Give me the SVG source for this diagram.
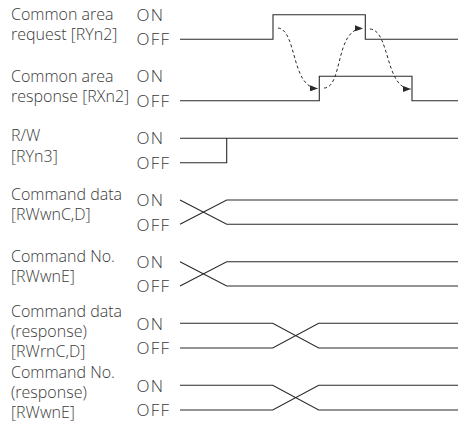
<svg xmlns="http://www.w3.org/2000/svg" width="464" height="428" viewBox="0 0 464 428">
<style>
text{font-family:"Open Sans","Noto Sans",sans-serif;font-weight:300;font-size:16px;fill:#3a3a3a}
text.s{font-size:17px;letter-spacing:1.2px}
.w{fill:none;stroke:#2a2a2a;stroke-width:1.1}
.d{fill:none;stroke:#2a2a2a;stroke-width:1;stroke-dasharray:3 2.5}
</style>
<defs>
<marker id="ah" markerUnits="userSpaceOnUse" markerWidth="8" markerHeight="6" refX="8" refY="3" orient="auto">
<path d="M0,0 L8,3 L0,6 z" fill="#2a2a2a"/>
</marker>
</defs>
<rect width="464" height="428" fill="#fff"/>
<g id="sig1">
<text x="11" y="20.2">Common area</text>
<text x="11" y="40.4">request [RYn2]</text>
<text class="s" x="136.5" y="20.8">ON</text>
<text class="s" x="136.5" y="45.4">OFF</text>
</g>
<g id="sig2">
<text x="11" y="81.7">Common area</text>
<text x="11" y="101.9">response [RXn2]</text>
<text class="s" x="136.5" y="82.4">ON</text>
<text class="s" x="136.5" y="106.8">OFF</text>
</g>
<g id="sig3">
<text x="11" y="141">R/W</text>
<text x="11" y="162">[RYn3]</text>
<text class="s" x="136.5" y="144.4">ON</text>
<text class="s" x="136.5" y="168.8">OFF</text>
</g>
<g id="sig4">
<text x="11" y="200.2">Command data</text>
<text x="11" y="220.4">[RWwnC,D]</text>
<text class="s" x="136.5" y="206.2">ON</text>
<text class="s" x="136.5" y="230.5">OFF</text>
</g>
<g id="sig5">
<text x="11" y="261.8">Command No.</text>
<text x="11" y="282">[RWwnE]</text>
<text class="s" x="136.5" y="268">ON</text>
<text class="s" x="136.5" y="292.2">OFF</text>
</g>
<g id="sig6">
<text x="11" y="316.8">Command data</text>
<text x="11" y="337">(response)</text>
<text x="11" y="357.2">[RWrnC,D]</text>
<text class="s" x="136.5" y="329.5">ON</text>
<text class="s" x="136.5" y="354.2">OFF</text>
</g>
<g id="sig7">
<text x="11" y="377.8">Command No.</text>
<text x="11" y="398">(response)</text>
<text x="11" y="418.2">[RWwnE]</text>
<text class="s" x="136.5" y="391.5">ON</text>
<text class="s" x="136.5" y="416.2">OFF</text>
</g>
<g id="connectors">
<path class="w" d="M180,39.3 H273 V14.7 H365.3 V39.3 H458"/>
<path class="w" d="M180,100.7 H319.3 V76.3 H412 V100.7 H458"/>
<path class="w" d="M180,138.3 H458 M180,162.7 H226.7 V138.3"/>
<path class="w" d="M180,200 L226.7,224.3 H458 M180,224.3 L226.7,200 H458"/>
<path class="w" d="M180,261.7 L226.7,286 H458 M180,286 L226.7,261.7 H458"/>
<path class="w" d="M180,323.3 H272.7 L318.7,348 H458 M180,348 H272.7 L318.7,323.3 H458"/>
<path class="w" d="M180,385.3 H272.7 L318.7,410 H458 M180,410 H272.7 L318.7,385.3 H458"/>
<path class="d" d="M278,28 C297,30 291,88 318,88.5" marker-end="url(#ah)"/>
<path class="d" d="M324,88 C343,88 335,28 363,28.5" marker-end="url(#ah)"/>
<path class="d" d="M370,29 C390,30 385,89 411,89" marker-end="url(#ah)"/>
</g>
</svg>
